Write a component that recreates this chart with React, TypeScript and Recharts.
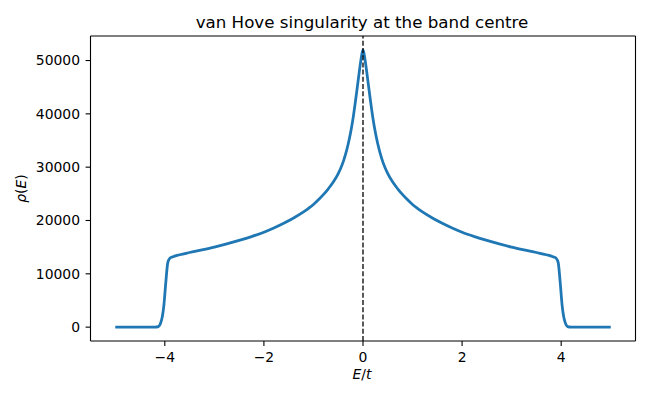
import { LineChart, Line, XAxis, YAxis, ReferenceLine } from "recharts";

// energies in units of t, and the density of states
const energies = [
  -5.0, -4.2, -4.13, -4.08, -4.05, -4.02, -3.98, -3.94, -3.9, -3.85, -3.7, -3.5,
  -3.25, -3.0, -2.75, -2.5, -2.25, -2.0, -1.8, -1.6, -1.4, -1.2, -1.0, -0.9,
  -0.8, -0.7, -0.6, -0.5, -0.45, -0.4, -0.35, -0.3, -0.25, -0.2, -0.15, -0.1,
  -0.05, -0.025, 0, 0.025, 0.05, 0.1, 0.15, 0.2, 0.25, 0.3, 0.35, 0.4,
  0.45, 0.5, 0.6, 0.7, 0.8, 0.9, 1.0, 1.2, 1.4, 1.6, 1.8, 2.0,
  2.25, 2.5, 2.75, 3.0, 3.25, 3.5, 3.7, 3.85, 3.9, 3.94, 3.98, 4.02,
  4.05, 4.08, 4.13, 4.2, 5.0,
];
const rho = [
  0, 0, 100, 900, 2000, 4000, 8400, 12100, 12900, 13150, 13580, 14000,
  14480, 15000, 15600, 16260, 16980, 17800, 18590, 19480, 20480, 21620, 23000, 23880,
  24850, 25950, 27200, 28800, 29800, 31000, 32500, 34300, 36500, 39200, 42500, 46100,
  49600, 51100, 52000, 51100, 49600, 46100, 42500, 39200, 36500, 34300, 32500, 31000,
  29800, 28800, 27200, 25950, 24850, 23880, 23000, 21620, 20480, 19480, 18590, 17800,
  16980, 16260, 15600, 15000, 14480, 14000, 13580, 13150, 12900, 12100, 8400, 4000,
  2000, 900, 100, 0, 0,
];
const xTicks = [-4, -2, 0, 2, 4];
const yTicks = [0, 10000, 20000, 30000, 40000, 50000];

const data = energies.map((e, i) => ({ E: e, rho: rho[i] }));

const font = "DejaVu Sans, sans-serif";
const tickStyle = { fill: "#000", fontSize: 13.9, fontFamily: font };
const fmt = (v: number) => (v < 0 ? "\u2212" + Math.abs(v) : String(v));

export default function App() {
  return (
    <div style={{ position: "absolute", left: 0, top: 0, width: 650, height: 400, background: "#fff" }}>
      <LineChart
        width={650}
        height={400}
        data={data}
        margin={{ top: 36, right: 14.5, bottom: 29, left: 30.5 }}
      >
        <XAxis
          dataKey="E"
          type="number"
          domain={[-5.5, 5.5]}
          ticks={xTicks}
          allowDataOverflow
          tickFormatter={fmt}
          tick={tickStyle}
          tickSize={4.9}
          tickMargin={6.5}
          height={30}
          axisLine={{ stroke: "#000", strokeWidth: 1.1 }}
          tickLine={{ stroke: "#000", strokeWidth: 1.1 }}
        />
        <YAxis
          type="number"
          domain={[-2600, 54600]}
          ticks={yTicks}
          allowDataOverflow
          tick={tickStyle}
          tickSize={4.9}
          tickMargin={5.6}
          width={60}
          axisLine={{ stroke: "#000", strokeWidth: 1.1 }}
          tickLine={{ stroke: "#000", strokeWidth: 1.1 }}
        />
        <ReferenceLine y={54600} stroke="#000" strokeWidth={1.1} />
        <ReferenceLine x={5.5} stroke="#000" strokeWidth={1.1} />
        <Line
          type="monotone"
          dataKey="rho"
          stroke="#1f77b4"
          strokeWidth={2.78}
          dot={false}
          isAnimationActive={false}
        />
        <ReferenceLine x={0} stroke="#000" strokeWidth={1.3} strokeDasharray="5 2.2" />
        <text x={362} y={28.3} textAnchor="middle" fontSize={16.7} fontFamily={font} fill="#000">
          van Hove singularity at the band centre
        </text>
        <text x={362} y={379} textAnchor="middle" fontSize={13.9} fontFamily={font} fill="#000">
          <tspan fontStyle="italic">E</tspan>/<tspan fontStyle="italic">t</tspan>
        </text>
        <text
          x={26}
          y={188.5}
          textAnchor="middle"
          fontSize={13.9}
          fontFamily={font}
          fill="#000"
          transform="rotate(-90 26 188.5)"
        >
          <tspan fontStyle="italic">ρ</tspan>(<tspan fontStyle="italic">E</tspan>)
        </text>
      </LineChart>
    </div>
  );
}
